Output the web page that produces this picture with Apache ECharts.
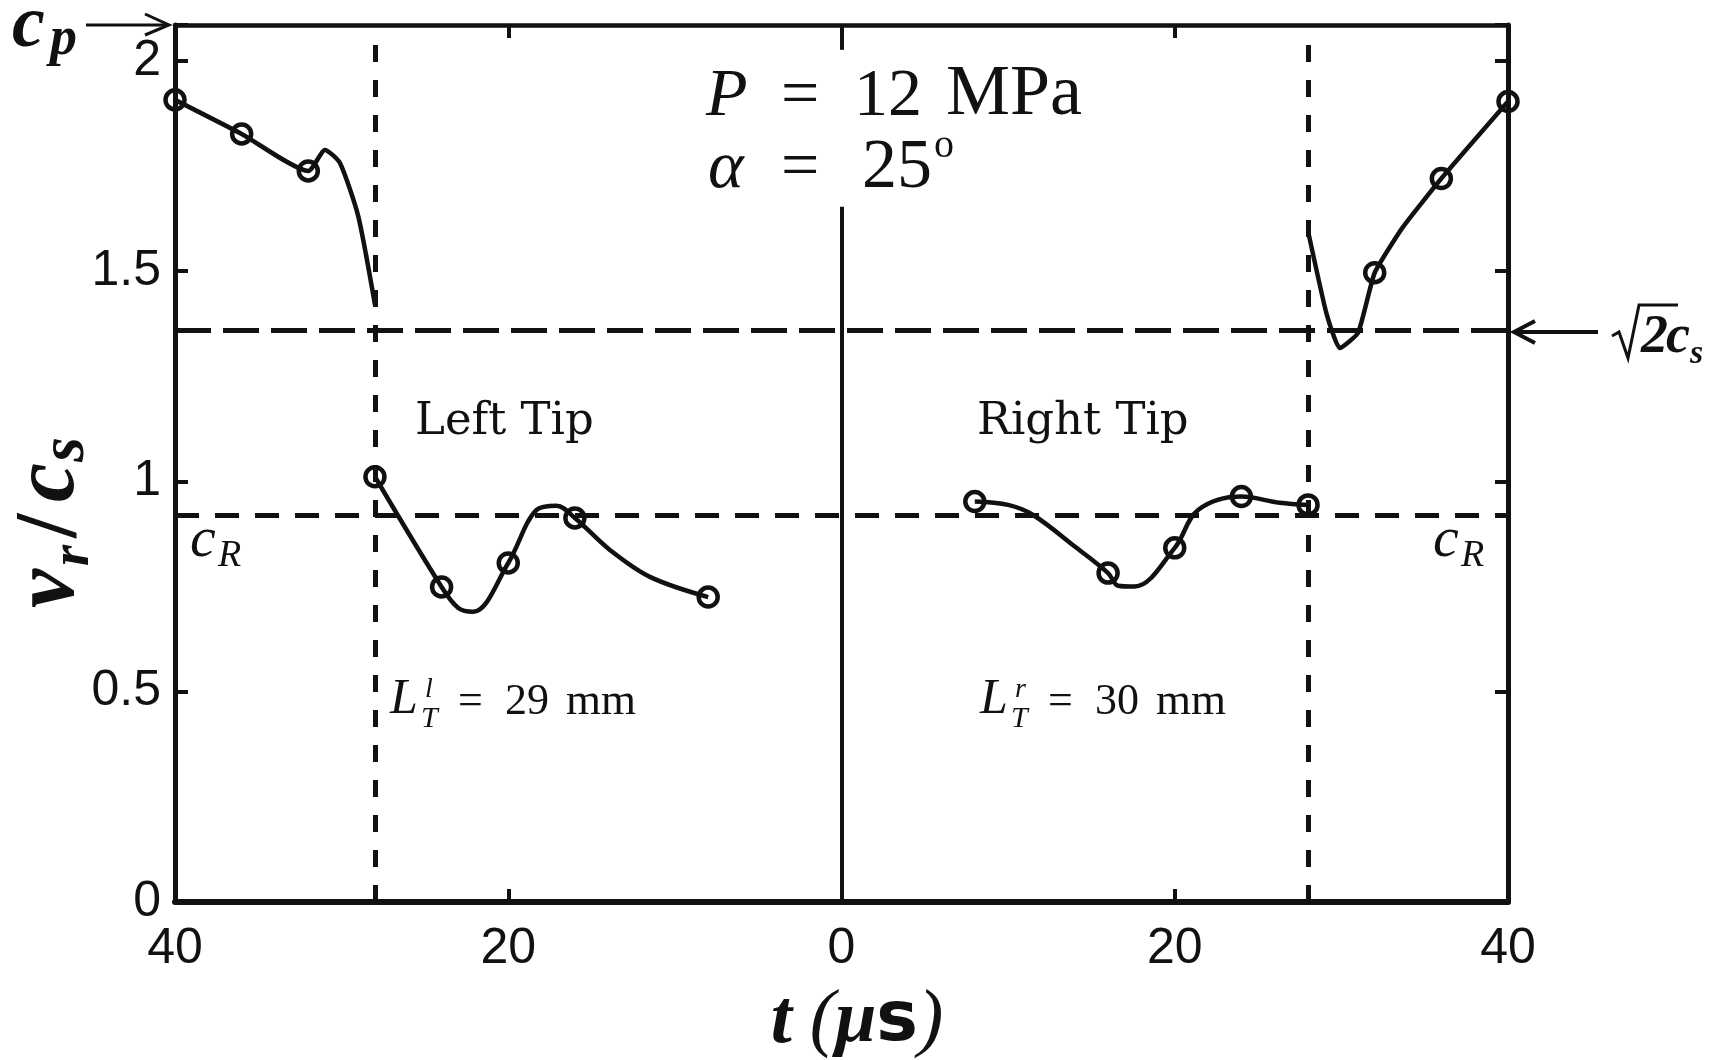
<!DOCTYPE html>
<html>
<head>
<meta charset="utf-8">
<title>vr/cs vs t</title>
<script src="https://cdn.jsdelivr.net/npm/echarts@6/dist/echarts.min.js"></script>
<style>
  html, body { margin: 0; padding: 0; background: #fff; }
  #chart { width: 1725px; height: 1060px; }
</style>
</head>
<body>
<div id="chart"></div>
<script>
// values, t in microseconds (left tip is drawn mirrored)
const leftUpperCurve = [[40, 1.907], [36, 1.826], [32, 1.738], [31, 1.788], [30.1, 1.757], [29, 1.63], [28, 1.42]];
const leftUpperMarks = [[40, 1.907], [36, 1.826], [32, 1.738]];
const leftLowerCurve = [[28, 1.011], [24, 0.749], [23, 0.699], [22.1, 0.69], [20, 0.806], [18.3, 0.932], [17.1, 0.942],
  [16, 0.913], [13.9, 0.837], [11.5, 0.773], [8, 0.725]];
const leftLowerMarks = [[28, 1.011], [24, 0.749], [20, 0.806], [16, 0.913], [8, 0.725]];
const rightLowerCurve = [[8, 0.952], [10, 0.944], [11.5, 0.92], [14, 0.845], [16, 0.782], [16.6, 0.752], [17.6, 0.75],
  [20, 0.842], [21.4, 0.932], [24, 0.964], [26.3, 0.949], [28, 0.944]];
const rightLowerMarks = [[8, 0.952], [16, 0.782], [20, 0.842], [24, 0.964], [28, 0.944]];
const rightUpperCurve = [[28, 1.595], [29.1, 1.40], [29.9, 1.317], [31, 1.353], [32, 1.496], [33.7, 1.605], [36, 1.72], [40, 1.903]];
const rightUpperMarks = [[32, 1.496], [36, 1.72], [40, 1.903]];

const tipTimes = [28];        // vertical dashed lines
const sqrt2cs = 1.356;        // upper horizontal dashed line
const cR = 0.92;              // lower horizontal dashed line
const centreGap = [1.653, 2.026]; // centre line hidden behind the text
const xTicks = [-40, -20, 0, 20, 40];
const yMax = 2.085;

const ink = '#111';
const mirror = arr => arr.map(p => [-p[0], p[1]]);

function curve(data, smooth) {
  return {
    type: 'line', data: data, smooth: smooth, showSymbol: false, symbol: 'none',
    lineStyle: { color: ink, width: 4.5 }, z: 3, animation: false, silent: true
  };
}
function marks(data) {
  return {
    type: 'scatter', data: data, symbol: 'circle', symbolSize: 19, clip: false,
    itemStyle: { color: 'rgba(0,0,0,0)', borderColor: ink, borderWidth: 4.5, opacity: 1 },
    z: 4, animation: false, silent: true
  };
}

const vDash = { color: ink, width: 5, type: [17, 18] };
const hDashLong = { color: ink, width: 5, type: [36, 12] };
const hDashShort = { color: ink, width: 5, type: [24, 16] };
const solid = { color: ink, width: 4, type: 'solid' };

const refLines = {
  type: 'line', data: [], z: 2, animation: false, silent: true,
  markLine: {
    silent: true, symbol: ['none', 'none'], label: { show: false }, animation: false,
    data: [
      { xAxis: -tipTimes[0], lineStyle: vDash },
      { xAxis: tipTimes[0], lineStyle: vDash },
      { yAxis: sqrt2cs, lineStyle: hDashLong },
      { yAxis: cR, lineStyle: hDashShort },
      [{ coord: [0, 0], lineStyle: solid }, { coord: [0, centreGap[0]] }],
      [{ coord: [0, centreGap[1]], lineStyle: solid }, { coord: [0, yMax] }]
    ]
  }
};

// text helpers (y is the baseline)
function t(x, base, text, size, font) {
  return {
    type: 'text', x: x, y: base - 0.34 * size, silent: true, z: 10,
    style: { text: text, font: font.replace('#', size + 'px '), fill: ink, align: 'left', verticalAlign: 'middle' }
  };
}
const SER = '#"Liberation Serif", serif';
const SERI = 'italic #"Liberation Serif", serif';
const SERBI = 'italic bold #"Liberation Serif", serif';
const DSER = '#"DejaVu Serif", serif';

function lengthLabel(x0, sup, num) {
  return [
    t(x0, 717, 'L', 50, SERI),
    t(x0 + 35, 699, sup, 28, SERI),
    t(x0 + 31, 729, 'T', 30, SERI),
    t(x0 + 68, 717, '=', 44, SER),
    t(x0 + 115, 717, num, 44, SER),
    t(x0 + 176, 717, 'mm', 45, SER)
  ];
}

const graphics = [].concat(
  [
    // P = 12 MPa, alpha = 25 deg
    t(706, 120, 'P', 68, SERI),
    t(781, 120, '=', 68, SER),
    t(854, 120, '12', 68, SER),
    t(946, 120, 'MPa', 72, SER),
    t(708, 192, 'α', 68, SERI),
    t(781, 192, '=', 68, SER),
    t(862, 192, '25', 70, SER),
    t(934, 160, 'o', 40, SER),
    // tip names
    t(415, 438, 'Left Tip', 45, DSER),
    t(977, 438, 'Right Tip', 45, DSER),
    // c_R labels
    t(190, 560, 'c', 58, SERI), t(218, 569, 'R', 38, SERI),
    t(1433, 560, 'c', 58, SERI), t(1461, 569, 'R', 38, SERI),
    // c_p with arrow
    t(12, 52, 'c', 74, SERBI), t(50, 58, 'p', 54, SERBI),
    { type: 'line', silent: true, z: 10, shape: { x1: 86, y1: 25, x2: 168, y2: 25 }, style: { stroke: ink, lineWidth: 3 } },
    { type: 'polyline', silent: true, z: 10, shape: { points: [[145, 14], [169, 25], [145, 35]] }, style: { stroke: ink, lineWidth: 3, fill: null } },
    // sqrt(2) c_s with arrow
    { type: 'line', silent: true, z: 10, shape: { x1: 1514, y1: 332, x2: 1598, y2: 332 }, style: { stroke: ink, lineWidth: 4 } },
    { type: 'polyline', silent: true, z: 10, shape: { points: [[1535, 321], [1514, 332], [1535, 343]] }, style: { stroke: ink, lineWidth: 4, fill: null } },
    { type: 'polyline', silent: true, z: 10, shape: { points: [[1612, 336], [1619, 332], [1628, 358], [1639, 305], [1678, 305]] }, style: { stroke: ink, lineWidth: 3, fill: null } },
    t(1641, 356, '2', 54, SERBI), t(1666, 356, 'c', 54, SERBI), t(1690, 366, 's', 34, SERBI),
    // x axis title
    { type: 'text', x: 857, y: 1022, silent: true, z: 10,
      style: { text: '{a|t}{sp| }{b|(}{c|μ}{d|s}{b|)}', align: 'center', verticalAlign: 'middle',
        rich: {
          a: { font: 'italic bold 76px "Liberation Serif", serif', fill: ink },
          sp: { font: '72px "Liberation Serif", serif', fill: ink },
          b: { font: 'italic 76px "Liberation Serif", serif', fill: ink },
          c: { font: 'italic bold 74px "Liberation Serif", serif', fill: ink },
          d: { font: 'bold 70px "DejaVu Sans", sans-serif', fill: ink }
        } } },
    // y axis title, rotated
    { type: 'group', x: 80, y: 608, rotation: Math.PI / 2, silent: true, z: 10,
      children: [
        t(0, 0, 'v', 88, SERBI),
        t(42, 12, 'r', 54, SERBI),
        t(70, 2, '/', 88, 'bold #"Liberation Serif", serif'),
        t(106, 0, 'c', 88, SERBI),
        t(146, 8, 's', 64, SERBI)
      ] }
  ],
  lengthLabel(390, 'l', '29'),
  lengthLabel(980, 'r', '30')
);

const axisFont = { fontFamily: '"Liberation Sans", Arial, sans-serif', fontSize: 50, color: ink };
const halfTick = v => Math.abs(v / 0.5 - Math.round(v / 0.5)) < 1e-6;

const chart = echarts.init(document.getElementById('chart'), null, { renderer: 'canvas' });
chart.setOption({
  backgroundColor: '#fff',
  animation: false,
  grid: { left: 175, right: 217, top: 25, bottom: 158, containLabel: false },
  xAxis: [
    { type: 'value', min: xTicks[0], max: xTicks[xTicks.length - 1], interval: 20, position: 'bottom',
      axisLine: { show: true, onZero: false, lineStyle: { color: ink, width: 6 } },
      axisTick: { show: true, inside: true, length: 13, lineStyle: { color: ink, width: 4 } },
      axisLabel: Object.assign({ margin: 22, formatter: v => String(Math.abs(v)) }, axisFont),
      splitLine: { show: false } },
    { type: 'value', min: xTicks[0], max: xTicks[xTicks.length - 1], interval: 20, position: 'top',
      axisLine: { show: true, onZero: false, lineStyle: { color: ink, width: 4.5 } },
      axisTick: { show: true, inside: true, length: 13, lineStyle: { color: ink, width: 4 } },
      axisLabel: { show: false }, splitLine: { show: false } }
  ],
  yAxis: [
    { type: 'value', min: 0, max: yMax, interval: 0.5, position: 'left',
      axisLine: { show: true, onZero: false, lineStyle: { color: ink, width: 5 } },
      axisTick: { show: true, inside: true, length: 13, lineStyle: { color: ink, width: 4 } },
      axisLabel: Object.assign({ margin: 14, formatter: v => halfTick(v) ? String(v) : '' }, axisFont),
      splitLine: { show: false } },
    { type: 'value', min: 0, max: yMax, interval: 0.5, position: 'right',
      axisLine: { show: true, onZero: false, lineStyle: { color: ink, width: 5 } },
      axisTick: { show: true, inside: true, length: 13, lineStyle: { color: ink, width: 4 } },
      axisLabel: { show: false }, splitLine: { show: false } }
  ],
  series: [
    refLines,
    curve(mirror(leftUpperCurve), 0.2),
    marks(mirror(leftUpperMarks)),
    curve(mirror(leftLowerCurve), 0.35),
    marks(mirror(leftLowerMarks)),
    curve(rightLowerCurve, 0.35),
    marks(rightLowerMarks),
    curve(rightUpperCurve, 0.15),
    marks(rightUpperMarks)
  ],
  graphic: graphics
});
</script>
</body>
</html>
